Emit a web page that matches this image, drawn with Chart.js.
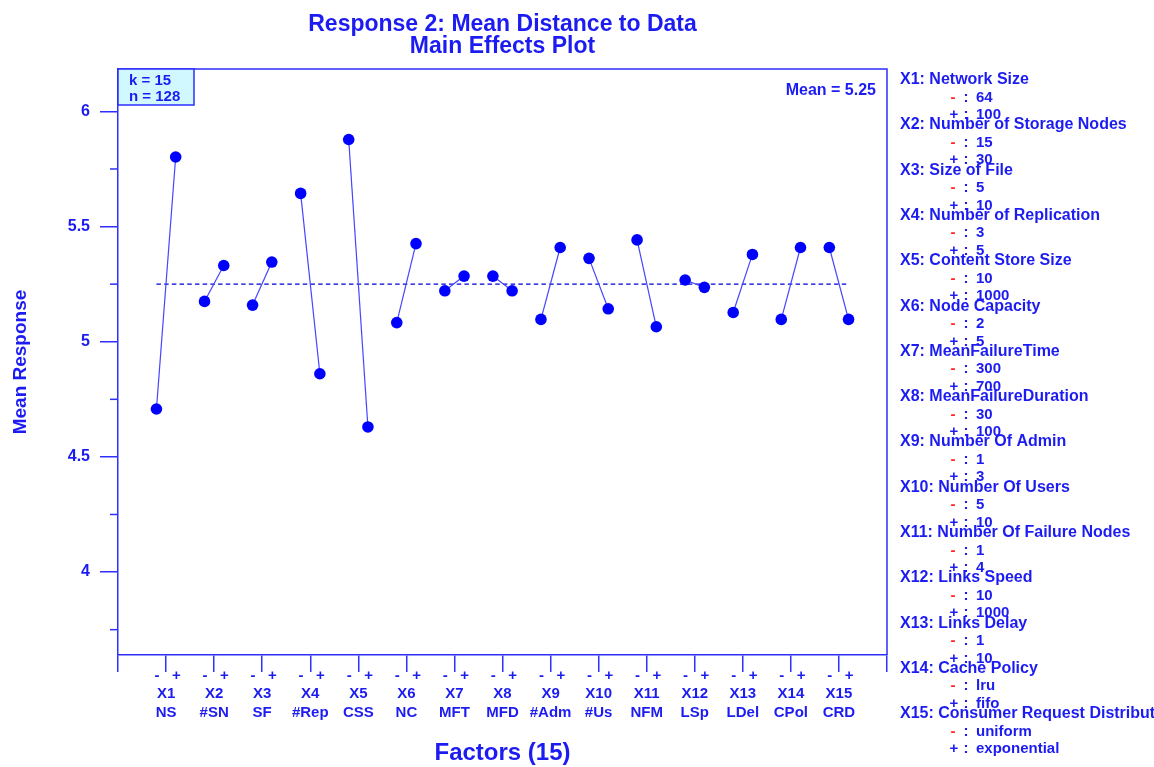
<!DOCTYPE html>
<html lang="en">
<head>
<meta charset="UTF-8">
<title>Main Effects Plot</title>
<script src="https://cdn.jsdelivr.net/npm/chart.js"></script>
<style>
  html, body { margin: 0; padding: 0; background: #fff; }
  #wrap { width: 1154px; height: 767px; }
</style>
</head>
<body>
<div id="wrap"><canvas id="effects" width="1154" height="767"></canvas></div>
<script>
// factors of the 2-level design
const factorIds = ['X1', 'X2', 'X3', 'X4', 'X5', 'X6', 'X7', 'X8', 'X9', 'X10', 'X11', 'X12', 'X13', 'X14', 'X15'];
const factorShort = ['NS', '#SN', 'SF', '#Rep', 'CSS', 'NC', 'MFT', 'MFD', '#Adm', '#Us', 'NFM', 'LSp', 'LDel', 'CPol', 'CRD'];
const factorNames = ['Network Size', 'Number of Storage Nodes', 'Size of File', 'Number of Replication',
  'Content Store Size', 'Node Capacity', 'MeanFailureTime', 'MeanFailureDuration', 'Number Of Admin',
  'Number Of Users', 'Number Of Failure Nodes', 'Links Speed', 'Links Delay', 'Cache Policy',
  'Consumer Request Distribution'];
const lowLevels = ['64', '15', '5', '3', '10', '2', '300', '30', '1', '5', '1', '10', '1', 'lru', 'uniform'];
const highLevels = ['100', '30', '10', '5', '1000', '5', '700', '100', '3', '10', '4', '1000', '10', 'fifo', 'exponential'];

// mean response at the - and + level of each factor
const lowMeans = [4.708, 5.175, 5.159, 5.644, 5.878, 5.083, 5.221, 5.285, 5.097, 5.362, 5.442, 5.268, 5.127, 5.097, 5.409];
const highMeans = [5.802, 5.331, 5.346, 4.861, 4.630, 5.426, 5.285, 5.221, 5.409, 5.143, 5.065, 5.236, 5.379, 5.409, 5.097];
const grandMean = 5.25;
const nRuns = 128;

const yMajorTicks = [4, 4.5, 5, 5.5, 6];
const yMinorTicks = [3.75, 4.25, 4.75, 5.25, 5.75];

const levelOffset = 0.2;
const FONT = "'Liberation Sans', Arial, sans-serif";
const textBlue = '#1c1cf2';
const axisBlue = '#2e2eff';

const datasets = factorIds.map((id, i) => ({
  label: id,
  data: [
    { x: i + 1 - levelOffset, y: lowMeans[i] },
    { x: i + 1 + levelOffset, y: highMeans[i] }
  ],
  showLine: true,
  borderColor: '#4545ff',
  borderWidth: 1.2,
  pointRadius: 5.8,
  pointBackgroundColor: '#0000ff',
  pointBorderColor: '#0000ff',
  pointBorderWidth: 0
}));

// dashed grand mean, drawn underneath the factor lines
datasets.push({
  label: 'mean',
  data: [
    { x: 1 - levelOffset, y: grandMean },
    { x: factorIds.length + levelOffset, y: grandMean }
  ],
  showLine: true,
  borderColor: '#0000d8',
  borderWidth: 1.3,
  borderDash: [4.5, 3.2],
  pointRadius: 0
});

const extras = {
  id: 'extras',
  afterDraw(chart) {
    const { ctx, chartArea: a, scales } = chart;
    ctx.save();

    // top and right frame
    ctx.strokeStyle = axisBlue;
    ctx.lineWidth = 1.5;
    ctx.beginPath();
    ctx.moveTo(a.left, a.top);
    ctx.lineTo(a.right, a.top);
    ctx.lineTo(a.right, a.bottom);
    ctx.stroke();

    // minor y ticks
    yMinorTicks.forEach(v => {
      const py = scales.y.getPixelForValue(v);
      ctx.beginPath();
      ctx.moveTo(a.left - 8, py);
      ctx.lineTo(a.left, py);
      ctx.stroke();
    });

    // k / n box
    ctx.fillStyle = '#d2f8ff';
    ctx.fillRect(a.left, a.top, 76, 36);
    ctx.strokeRect(a.left, a.top, 76, 36);
    ctx.fillStyle = textBlue;
    ctx.font = 'bold 15px ' + FONT;
    ctx.textAlign = 'left';
    ctx.textBaseline = 'alphabetic';
    ctx.fillText('k = ' + factorIds.length, a.left + 11, a.top + 16);
    ctx.fillText('n = ' + nRuns, a.left + 11, a.top + 32);

    ctx.font = 'bold 16px ' + FONT;
    ctx.textAlign = 'right';
    ctx.fillText('Mean = ' + grandMean.toFixed(2), a.right - 11, a.top + 26);

    // titles
    const cx = (a.left + a.right) / 2;
    ctx.textAlign = 'center';
    ctx.font = 'bold 23px ' + FONT;
    ctx.fillText('Response 2: Mean Distance to Data', cx, 31);
    ctx.fillText('Main Effects Plot', cx, 53);

    // factor level key
    ctx.textAlign = 'left';
    factorIds.forEach((id, i) => {
      const y0 = 84 + i * 45.3;
      ctx.font = 'bold 16px ' + FONT;
      ctx.fillStyle = textBlue;
      ctx.fillText(id + ': ' + factorNames[i], 900, y0);

      ctx.font = 'bold 15px ' + FONT;
      ctx.textAlign = 'center';
      ctx.fillStyle = '#ff2222';
      ctx.fillText('-', 953, y0 + 17.5);
      ctx.fillStyle = textBlue;
      ctx.fillText(':', 966, y0 + 17.5);
      ctx.fillText('+', 954, y0 + 35);
      ctx.fillText(':', 966, y0 + 35);
      ctx.textAlign = 'left';
      ctx.fillText(lowLevels[i], 976, y0 + 17.5);
      ctx.fillText(highLevels[i], 976, y0 + 35);
    });

    ctx.restore();
  }
};

new Chart(document.getElementById('effects'), {
  type: 'scatter',
  data: { datasets },
  options: {
    responsive: false,
    animation: false,
    devicePixelRatio: 1,
    layout: { padding: { top: 69, right: 267, left: 0, bottom: 0 } },
    plugins: {
      legend: { display: false },
      tooltip: { enabled: false }
    },
    scales: {
      x: {
        type: 'linear',
        position: 'bottom',
        min: 0,
        max: 16,
        afterBuildTicks: s => { s.ticks = Array.from({ length: 17 }, (_, v) => ({ value: v })); },
        afterFit: s => { s.height = 112; },
        ticks: {
          autoSkip: false,
          maxRotation: 0,
          padding: -5.5,
          color: textBlue,
          font: { family: FONT, size: 15, weight: 'bold', lineHeight: 1.23 },
          callback: v => (v >= 1 && v <= 15) ? ['\u2009-   +', factorIds[v - 1], factorShort[v - 1]] : ''
        },
        grid: { drawOnChartArea: false, tickLength: 17, color: axisBlue, lineWidth: 1.5 },
        border: { color: axisBlue, width: 1.5 },
        title: {
          display: true,
          text: 'Factors (15)',
          color: textBlue,
          font: { family: FONT, size: 24, weight: 'bold', lineHeight: 1.1 },
          padding: { top: 0, bottom: 0 }
        }
      },
      y: {
        type: 'linear',
        min: 3.64,
        max: 6.184,
        afterBuildTicks: s => { s.ticks = yMajorTicks.map(v => ({ value: v })); },
        afterFit: s => { s.width = 118; },
        ticks: {
          padding: 10,
          color: textBlue,
          font: { family: FONT, size: 16, weight: 'bold' },
          callback: v => String(v)
        },
        grid: { drawOnChartArea: false, tickLength: 18, color: axisBlue, lineWidth: 1.5 },
        border: { color: axisBlue, width: 1.5 },
        title: {
          display: true,
          text: 'Mean Response',
          color: textBlue,
          font: { family: FONT, size: 19, weight: 'bold' },
          padding: { top: 9, bottom: 0 }
        }
      }
    }
  },
  plugins: [extras]
});
</script>
</body>
</html>
